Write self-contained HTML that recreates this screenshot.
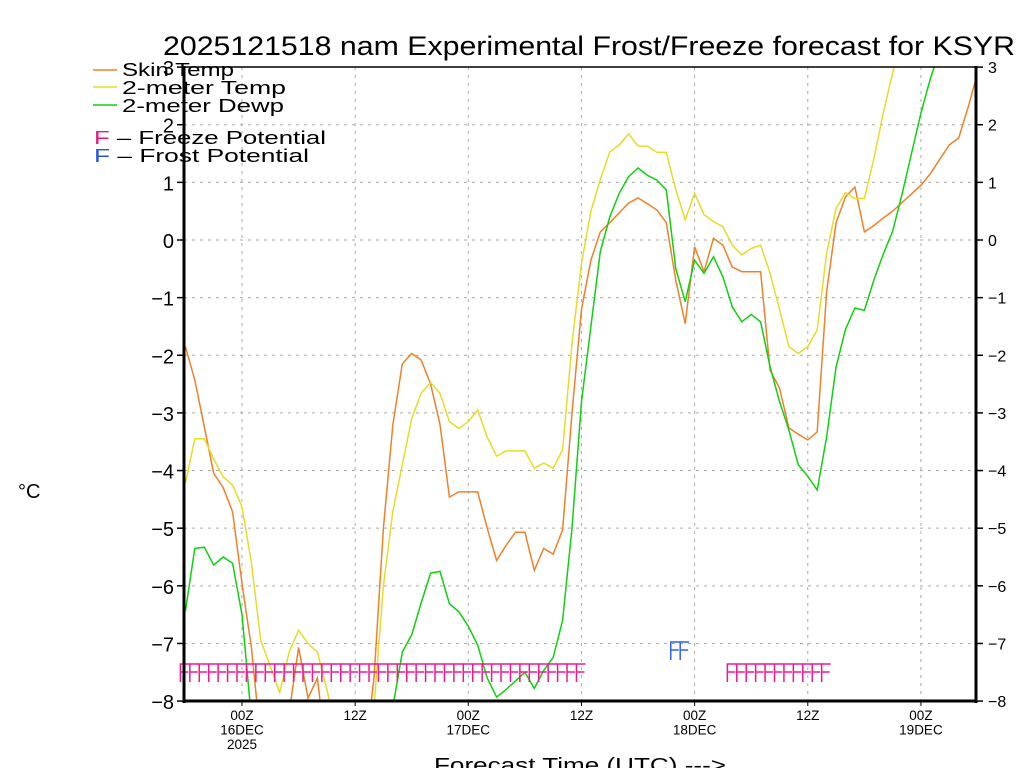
<!DOCTYPE html>
<html><head><meta charset="utf-8"><style>
html,body{margin:0;padding:0;background:#fff;}
svg{display:block;font-family:"Liberation Sans",sans-serif;}
</style></head><body>
<svg id="chart" width="1024" height="768" viewBox="0 0 1024 768" xmlns="http://www.w3.org/2000/svg">
<defs><clipPath id="plotclip"><rect x="184" y="67" width="792" height="634"/></clipPath></defs>
<text x="163" y="55" font-size="27" textLength="852" lengthAdjust="spacingAndGlyphs">2025121518 nam Experimental Frost/Freeze forecast for KSYR</text>
<g id="grid"></g>
<g id="series" clip-path="url(#plotclip)"></g>
<g id="marks"></g>
<g id="axes"></g>
<text x="18" y="498" font-size="20">°C</text>
<text x="434" y="772" font-size="20" textLength="292" lengthAdjust="spacingAndGlyphs">Forecast Time (UTC) ---&gt;</text>
<g font-size="18">
<line x1="93" y1="70" x2="117" y2="70" stroke="#f0802a" stroke-width="1.5"/>
<text x="122" y="76" textLength="112" lengthAdjust="spacingAndGlyphs">Skin Temp</text>
<line x1="93" y1="87" x2="117" y2="87" stroke="#e6dc28" stroke-width="1.5"/>
<text x="122" y="94" textLength="164" lengthAdjust="spacingAndGlyphs">2-meter Temp</text>
<line x1="93" y1="105" x2="117" y2="105" stroke="#10d010" stroke-width="1.5"/>
<text x="122" y="112" textLength="162" lengthAdjust="spacingAndGlyphs">2-meter Dewp</text>
<text x="94" y="144" textLength="232" lengthAdjust="spacingAndGlyphs"><tspan fill="#e8187c">F</tspan> – Freeze Potential</text>
<text x="94" y="162" textLength="215" lengthAdjust="spacingAndGlyphs"><tspan fill="#2850e8">F</tspan> – Frost Potential</text>
</g>
</svg>
<script>
const skinTemp = [-1.85,-2.43,-3.24,-4.05,-4.29,-4.72,-5.96,-7.07,-8.7,-9,-9,-8.2,-7.07,-7.95,-7.6,-9,-9,-9,-9,-9,-7.6,-5.0,-3.2,-2.15,-1.97,-2.08,-2.5,-3.2,-4.46,-4.37,-4.37,-4.37,-5.0,-5.56,-5.3,-5.07,-5.07,-5.73,-5.35,-5.45,-5.03,-3.0,-1.2,-0.35,0.14,0.3,0.47,0.64,0.73,0.63,0.52,0.3,-0.7,-1.45,-0.12,-0.55,0.03,-0.09,-0.47,-0.55,-0.55,-0.55,-2.26,-2.57,-3.26,-3.37,-3.47,-3.33,-0.9,0.3,0.75,0.92,0.14,0.25,0.38,0.5,0.65,0.8,0.95,1.15,1.4,1.65,1.77,2.3,2.9];
const temp2m = [-4.22,-3.45,-3.45,-3.8,-4.11,-4.25,-4.63,-5.6,-6.95,-7.4,-7.85,-7.15,-6.77,-7.0,-7.15,-7.8,-8.5,-9,-9,-9,-8.1,-6.0,-4.7,-3.9,-3.1,-2.66,-2.47,-2.66,-3.15,-3.27,-3.15,-2.95,-3.42,-3.75,-3.66,-3.66,-3.66,-3.96,-3.87,-3.96,-3.64,-1.8,-0.4,0.5,1.05,1.53,1.65,1.84,1.63,1.63,1.52,1.52,0.87,0.35,0.81,0.44,0.32,0.23,-0.09,-0.26,-0.15,-0.09,-0.58,-1.2,-1.85,-1.97,-1.85,-1.56,-0.23,0.55,0.82,0.72,0.72,1.4,2.2,2.9,3.5,4,4.4,4.8,5,5.2,5.4,5.6,5.8];
const dewp2m = [-6.44,-5.35,-5.33,-5.64,-5.5,-5.61,-6.5,-8.3,-9,-9,-9,-9,-9,-9,-9,-9,-9,-9,-9,-9,-9,-9,-8.1,-7.15,-6.85,-6.3,-5.78,-5.75,-6.31,-6.45,-6.7,-7.03,-7.6,-7.93,-7.8,-7.65,-7.5,-7.78,-7.47,-7.24,-6.6,-5.0,-2.8,-1.5,-0.2,0.4,0.81,1.1,1.25,1.12,1.04,0.87,-0.5,-1.07,-0.35,-0.58,-0.29,-0.64,-1.16,-1.42,-1.29,-1.42,-2.2,-2.8,-3.3,-3.9,-4.1,-4.34,-3.42,-2.2,-1.55,-1.18,-1.22,-0.7,-0.25,0.15,0.8,1.5,2.2,2.8,3.3,3.8,4.2,4.6,5];
const freezeHours = [0,1,2,3,4,5,6,7,8,9,10,11,12,13,14,15,16,17,18,19,20,21,22,23,24,25,26,27,28,29,30,31,32,33,34,35,36,37,38,39,40,41,42,58,59,60,61,62,63,64,65,66,67,68];
const frostHours = [52,53];
const yTicks = [-8,-7,-6,-5,-4,-3,-2,-1,0,1,2,3];
const xTickHours = [6,18,30,42,54,66,78];
const xTickLabels = [["00Z","16DEC","2025"],["12Z"],["00Z","17DEC"],["12Z"],["00Z","18DEC"],["12Z"],["00Z","19DEC"]];

const NS="http://www.w3.org/2000/svg";
const X0=185.4, XS=9.43, L=184, R=976, T=67, B=701;
function xs(t){return X0+t*XS;}
function ys(v){return 240 - v*57.636;}
function mk(tag,attrs,parent){const e=document.createElementNS(NS,tag);for(const k in attrs)e.setAttribute(k,attrs[k]);parent.appendChild(e);return e;}
const grid=document.getElementById('grid'), axes=document.getElementById('axes'), series=document.getElementById('series'), marks=document.getElementById('marks');

yTicks.forEach(v=>{
  const y=ys(v);
  if(v>-8&&v<3){const g=mk('line',{x1:L,y1:y,x2:R,y2:y,stroke:'#aaa','stroke-dasharray':'3,5','stroke-width':1},grid);
  
  }
  mk('line',{x1:L-7,y1:y,x2:L,y2:y,stroke:'#000','stroke-width':1.5},axes);
  mk('line',{x1:R,y1:y,x2:R+7,y2:y,stroke:'#000','stroke-width':1.5},axes);
  const lab=(v<0?'\u2212':'')+Math.abs(v);
  const tl=mk('text',{x:L-10,y:y+8,'font-size':20,'text-anchor':'end'},axes);tl.textContent=lab;
  
  
  const tr=mk('text',{x:R+12,y:y+6,'font-size':16},axes);tr.textContent=lab;
  
  
});
xTickHours.forEach((h,i)=>{
  const x=xs(h);
  const g=mk('line',{x1:x,y1:T,x2:x,y2:B,stroke:'#aaa','stroke-dasharray':'3,5','stroke-width':1},grid);
  
  
  mk('line',{x1:x,y1:B,x2:x,y2:B+5,stroke:'#000','stroke-width':1},axes);
  xTickLabels[i].forEach((s,j)=>{
    const t=mk('text',{x:x,y:B+19+j*14.5,'font-size':13.5,'text-anchor':'middle'},axes);t.textContent=s;
    
    
  });
});
mk('rect',{x:L,y:T,width:R-L,height:B-T,fill:'none',stroke:'#000','stroke-width':1.5},axes);
mk('line',{x1:L,y1:T-1,x2:L,y2:B+2,stroke:'#000','stroke-width':3},axes);
mk('line',{x1:R,y1:T-1,x2:R,y2:B+2,stroke:'#000','stroke-width':3},axes);
mk('line',{x1:L,y1:B,x2:R,y2:B,stroke:'#000','stroke-width':3},axes);

function drawLine(arr,color,name){
  const pts=arr.map((v,i)=>xs(i).toFixed(1)+','+ys(v).toFixed(1)).join(' ');
  const p=mk('polyline',{points:pts,fill:'none',stroke:color,'stroke-width':1.5},series);
  
  
}
drawLine(skinTemp,'#f0802a','skin-temp-line');
drawLine(temp2m,'#e6dc28','2m-temp-line');
drawLine(dewp2m,'#10d010','2m-dewp-line');

function drawF(hours,color,yTop,name){
  // group consecutive runs
  let runs=[],cur=[];
  hours.forEach((h,i)=>{if(i&&h!==hours[i-1]+1){runs.push(cur);cur=[];}cur.push(h);});
  if(cur.length)runs.push(cur);
  runs.forEach(r=>{
    r.forEach(h=>{
      const x=xs(h)-5;
      const f=mk('path',{d:`M${x},${yTop+18}V${yTop}H${x+9}M${x},${yTop+8}H${x+8}`,fill:'none',stroke:color,'stroke-width':1.5},marks);
      
      
    });
  });
}
drawF(freezeHours,'#f01890',664,'freeze-marker');
drawF(frostHours,'#3060f0',642,'frost-marker');
</script>
</body></html>
